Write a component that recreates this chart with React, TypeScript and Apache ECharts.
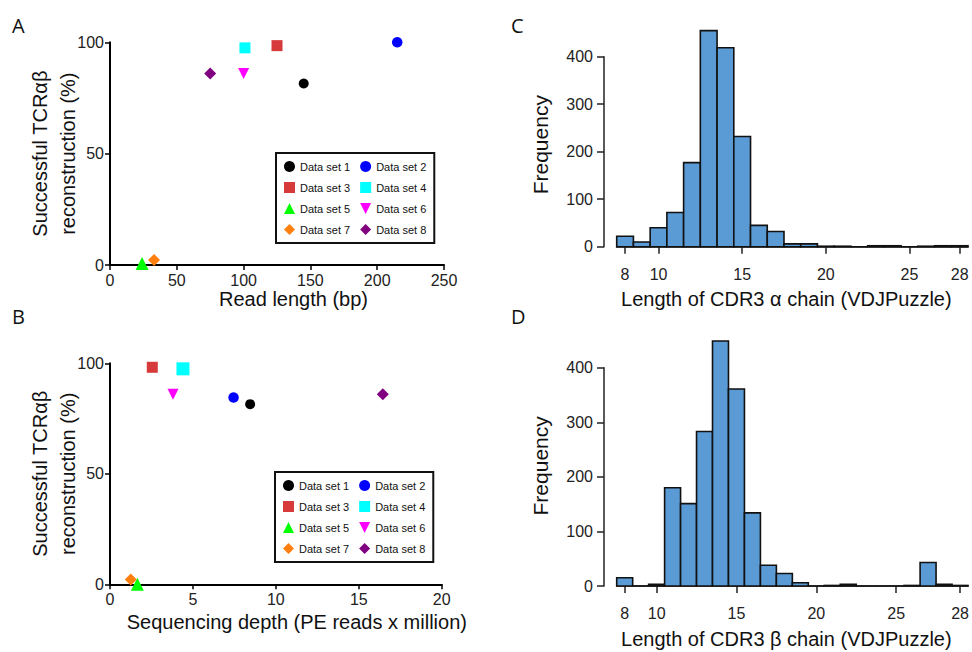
import React, { useEffect, useRef } from 'react';
import * as echarts from 'echarts';

// ---------- Data ----------
const dataSetNames = ['Data set 1', 'Data set 2', 'Data set 3', 'Data set 4', 'Data set 5', 'Data set 6', 'Data set 7', 'Data set 8'];
// Panel A: read length (bp) vs successful reconstruction (%)
const readLengthBp = [145, 215, 125, 101, 24, 100, 33, 75];
const successA = [81.5, 100, 98.5, 97.5, 0.7, 86, 2.2, 86];
// Panel B: sequencing depth (PE reads x million) vs successful reconstruction (%)
const seqDepthM = [8.45, 7.45, 2.55, 4.4, 1.65, 3.8, 1.25, 16.45];
const successB = [81.5, 84.5, 98.2, 97.5, 0, 86, 2.2, 86];
// Panel C: CDR3 alpha length histogram
const alphaLengths = [8, 9, 10, 11, 12, 13, 14, 15, 16, 17, 18, 19, 20, 21, 22, 23, 24, 25, 26, 27, 28];
const alphaFreq = [22, 10, 40, 72, 177, 455, 419, 232, 45, 32, 6, 6, 1, 1, 0, 2, 2, 0, 1, 2, 2];
// Panel D: CDR3 beta length histogram
const betaLengths = [8, 9, 10, 11, 12, 13, 14, 15, 16, 17, 18, 19, 20, 21, 22, 23, 24, 25, 26, 27, 28, 29];
const betaFreq = [15, 0, 3, 180, 151, 283, 449, 361, 134, 38, 23, 6, 0, 1, 3, 0, 0, 0, 1, 43, 3, 1];
// Tick labels
const alphaTickValues = [8, 10, 15, 20, 25, 28];
const betaTickValues = [8, 10, 15, 20, 25, 29];
const betaTickLabels = ['8', '10', '15', '20', '25', '28'];

// ---------- Styles ----------
const markerSymbols = ['circle', 'circle', 'rect', 'rect', 'triangle', 'path://M0,0L10,0L5,10Z', 'diamond', 'diamond'];
const markerColors = ['#000000', '#0000ff', '#d63a3a', '#00ffff', '#00ff00', '#ff00ff', '#ff7f0e', '#800080'];
const markerSizesA = [10, 10.5, 11, 11, 13, 11, 12, 12];
const markerSizesB = [10, 10.5, 11, 13, 13, 11, 12, 12];
const FONT = '"Liberation Sans", Arial, sans-serif';
const BAR_FILL = '#5b9bd5';

export default function App() {
  const ref = useRef<HTMLDivElement>(null);

  useEffect(() => {
    if (!ref.current) return;
    const chart = echarts.init(ref.current, undefined, { renderer: 'svg' });

    const scatterY = (gridIndex: number) => ({
      type: 'value',
      gridIndex,
      min: 0,
      max: 100,
      interval: 50,
      name: 'Successful TCRαβ\nreconstruction (%)',
      nameLocation: 'middle',
      nameRotate: 90,
      nameGap: 28,
      nameMoveOverlap: false,
      nameTextStyle: { fontSize: 20, lineHeight: 28, color: '#111', fontFamily: FONT },
      axisLine: { show: true, lineStyle: { color: '#000', width: 2 } },
      axisTick: { show: true, length: 5, lineStyle: { color: '#000', width: 1.5 } },
      axisLabel: { fontSize: 16, color: '#222', margin: 6, fontFamily: FONT },
      splitLine: { show: false },
    });

    const histY = (gridIndex: number, lift: number) => ({
      type: 'value',
      gridIndex,
      min: 0,
      max: 400,
      interval: 100,
      offset: 12.7,
      name: 'Frequency',
      nameLocation: 'middle',
      nameRotate: 90,
      nameGap: 53,
      nameTextStyle: { fontSize: 21, color: '#111', fontFamily: FONT, padding: [0, 0, 0, lift] },
      axisLine: { show: true, lineStyle: { color: '#222', width: 1.5 } },
      axisTick: { show: true, length: 7, lineStyle: { color: '#222', width: 1.5 } },
      axisLabel: { fontSize: 16, color: '#222', margin: 11, fontFamily: FONT },
      splitLine: { show: false },
    });

    const histX = (gridIndex: number, max: number, name: string, ticks: number[], labels?: string[]) => ({
      type: 'value',
      gridIndex,
      min: 7.5,
      max,
      offset: 8.5,
      name,
      nameLocation: 'middle',
      nameGap: 34,
      nameTextStyle: { fontSize: 20, color: '#111', fontFamily: FONT, padding: [0, 12, 0, 0] },
      axisLine: { show: true, lineStyle: { color: '#222', width: 1.5 } },
      axisTick: { show: true, length: 7, customValues: ticks, lineStyle: { color: '#222', width: 1.5 } },
      axisLabel: {
        fontSize: 16,
        color: '#222',
        margin: 11,
        fontFamily: FONT,
        customValues: ticks,
        formatter: (v: number) => (labels ? labels[ticks.indexOf(v)] ?? String(v) : String(v)),
      },
      splitLine: { show: false },
    });

    const histSeries = (idx: number, lengths: number[], freq: number[]) => ({
      type: 'custom',
      xAxisIndex: idx,
      yAxisIndex: idx,
      clip: false,
      encode: { x: 0, y: 1 },
      data: lengths.map((l, i) => [l, freq[i]]),
      renderItem: (params: any, api: any) => {
        const x = api.value(0);
        const y = api.value(1);
        const p0 = api.coord([x - 0.5, y]);
        const p1 = api.coord([x + 0.5, 0]);
        return {
          type: 'rect',
          shape: { x: p0[0], y: p0[1], width: p1[0] - p0[0], height: p1[1] - p0[1] },
          style: { fill: BAR_FILL, stroke: '#111', lineWidth: 1.6 },
        };
      },
    });

    const scatterSeries: any[] = [];
    dataSetNames.forEach((name, i) => {
      scatterSeries.push({
        type: 'scatter',
        name,
        xAxisIndex: 0,
        yAxisIndex: 0,
        clip: false,
        symbol: markerSymbols[i],
        symbolSize: markerSizesA[i],
        itemStyle: { color: markerColors[i], opacity: 1 },
        data: [[readLengthBp[i], successA[i]]],
      });
      scatterSeries.push({
        type: 'scatter',
        name,
        xAxisIndex: 1,
        yAxisIndex: 1,
        clip: false,
        symbol: markerSymbols[i],
        symbolSize: markerSizesB[i],
        itemStyle: { color: markerColors[i], opacity: 1 },
        data: [[seqDepthM[i], successB[i]]],
      });
    });

    const legendCommon = {
      data: dataSetNames,
      orient: 'horizontal',
      width: 150,
      itemWidth: 11,
      itemHeight: 11,
      itemGap: 10,
      padding: [8, 8, 8, 8],
      borderColor: '#111',
      borderWidth: 2,
      selectedMode: false,
      textStyle: { fontSize: 11, color: '#111', fontFamily: FONT },
    };

    const panelLetter = (text: string, x: number, y: number) => ({
      type: 'text',
      x,
      y,
      style: { text, font: '20px "Open Sans", sans-serif', fill: '#111', verticalAlign: 'middle', align: 'left' },
    });

    chart.setOption({
      animation: false,
      textStyle: { fontFamily: FONT },
      grid: [
        { left: 110, top: 42.3, width: 334, height: 222.7 },
        { left: 110, top: 363.3, width: 331.7, height: 221 },
        { left: 616.7, top: 56.7, width: 351.3, height: 190 },
        { left: 616.7, top: 367.7, width: 351.3, height: 218.3 },
      ],
      xAxis: [
        {
          type: 'value',
          gridIndex: 0,
          min: 0,
          max: 250,
          interval: 50,
          name: 'Read length (bp)',
          nameLocation: 'middle',
          nameGap: 24,
          nameTextStyle: { fontSize: 20, color: '#111', fontFamily: FONT, padding: [0, 0, 0, 33] },
          axisLine: { show: true, lineStyle: { color: '#000', width: 2 } },
          axisTick: { show: true, length: 5, lineStyle: { color: '#000', width: 1.5 } },
          axisLabel: { fontSize: 16, color: '#222', margin: 7, fontFamily: FONT },
          splitLine: { show: false },
        },
        {
          type: 'value',
          gridIndex: 1,
          min: 0,
          max: 20,
          interval: 5,
          name: 'Sequencing depth (PE reads x million)',
          nameLocation: 'middle',
          nameGap: 28,
          nameTextStyle: { fontSize: 20, color: '#111', fontFamily: FONT, padding: [0, 0, 0, 42] },
          axisLine: { show: true, lineStyle: { color: '#000', width: 2 } },
          axisTick: { show: true, length: 5, lineStyle: { color: '#000', width: 1.5 } },
          axisLabel: { fontSize: 16, color: '#222', margin: 7, fontFamily: FONT },
          splitLine: { show: false },
        },
        histX(2, 28.5, 'Length of CDR3 α chain (VDJPuzzle)', alphaTickValues),
        histX(3, 29.5, 'Length of CDR3 β chain (VDJPuzzle)', betaTickValues, betaTickLabels),
      ],
      yAxis: [scatterY(0), scatterY(1), histY(2, 14), histY(3, 22)],
      legend: [
        { ...legendCommon, left: 276, top: 153 },
        { ...legendCommon, left: 275, top: 472 },
      ],
      graphic: [
        panelLetter('A', 12, 25),
        panelLetter('B', 12, 316),
        panelLetter('C', 511, 25),
        panelLetter('D', 511, 316),
      ],
      series: [...scatterSeries, histSeries(2, alphaLengths, alphaFreq), histSeries(3, betaLengths, betaFreq)],
    });

    return () => chart.dispose();
  }, []);

  return <div ref={ref} style={{ position: 'absolute', left: 0, top: 0, width: 972, height: 652 }} />;
}
